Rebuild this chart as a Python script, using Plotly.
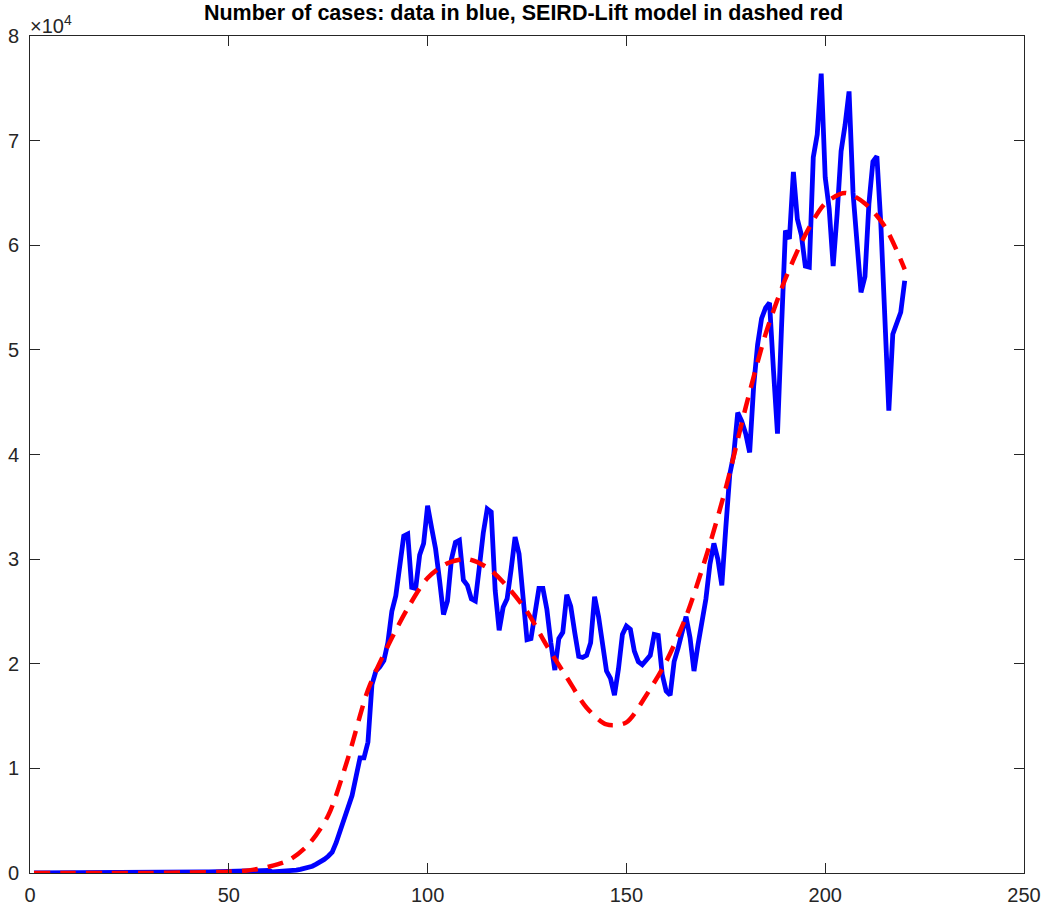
import plotly.graph_objects as go

# ---------------- data ----------------
days = list(range(1, 221))

# observed daily cases (blue), days 1..220
cases = [
    0, 0, 0, 0, 0, 2, 3, 3, 5, 8,
    10, 12, 15, 18, 20, 22, 25, 28, 30, 32,
    35, 38, 40, 45, 48, 50, 55, 58, 60, 62,
    65, 68, 70, 72, 75, 78, 80, 85, 88, 90,
    95, 100, 105, 110, 115, 120, 125, 130, 135, 140,
    145, 150, 160, 170, 180, 190, 200, 210, 220, 240,
    100, 120, 130, 150, 180, 220, 280, 350, 420, 520,
    650, 850, 1050, 1300, 1600, 2000, 2900, 4000, 5200, 6400,
    7400, 9200, 11000, 11000, 12500, 18000, 19300, 19700, 20300, 22000,
    25000, 26500, 29500, 32200, 32400, 27300, 27200, 30400, 31500, 35100,
    33000, 31000, 28000, 24700, 26000, 30000, 31600, 31800, 28000, 27500,
    26200, 26000, 29200, 32500, 34800, 34500, 27000, 23200, 25400, 26200,
    29000, 32100, 30500, 26200, 22300, 22400, 25200, 27200, 27200, 25200,
    22000, 19400, 22400, 23000, 26600, 25500, 23000, 20700, 20600, 20800,
    22000, 26400, 24500, 22000, 19300, 18600, 17000, 19500, 22800, 23600,
    23300, 21200, 20200, 19900, 20300, 20800, 22800, 22700, 19000, 17400,
    17000, 20200, 21500, 22900, 24500, 22500, 19300, 21800, 24000, 26200,
    29500, 31500, 30000, 27500, 33000, 38100, 40000, 44000, 43200, 42000,
    40200, 46500, 50500, 53000, 54000, 54500, 48000, 42000, 52000, 61400,
    60600, 67000, 62500, 61000, 58000, 57900, 68400, 70600, 76400, 66500,
    63500, 58000, 63000, 69000, 71500, 74700, 65000, 60000, 55500, 57000,
    64000, 68000, 68500, 62000, 53700, 44200, 51500, 52500, 53600, 56600,
]

# SEIRD-Lift model (red dashed), read every few days
model_days = [1, 10, 20, 30, 40, 50, 55, 60, 65, 70, 75, 80, 85, 90, 95,
              100, 105, 110, 115, 120, 125, 130, 135, 140, 145, 150, 155,
              160, 165, 170, 175, 180, 185, 190, 195, 200, 205, 210, 215, 220]
model_cases = [0, 0, 0, 0, 50, 120, 250, 600, 1200, 2700, 5500, 11000,
               17500, 21700, 25300, 28200, 29600, 30000, 29200, 27400,
               25000, 21700, 18700, 15800, 14200, 14400, 17000, 20200,
               24500, 30200, 36800, 44500, 51500, 56800, 61000, 64000,
               65000, 64000, 61800, 57700]

x_ticks = [0, 50, 100, 150, 200, 250]
y_ticks = [0, 10000, 20000, 30000, 40000, 50000, 60000, 70000, 80000]
y_tick_labels = ["0", "1", "2", "3", "4", "5", "6", "7", "8"]

title_text = "Number of cases: data in blue, SEIRD-Lift model in dashed red"

# ---------------- figure ----------------
axis_col = "#262626"
font_fam = "Liberation Sans, Arial, Helvetica, sans-serif"

fig = go.Figure()
fig.add_trace(go.Scatter(
    x=days, y=cases, mode="lines",
    line=dict(color="#0000FF", width=4.8),
    showlegend=False, hoverinfo="skip"))
fig.add_trace(go.Scatter(
    x=model_days, y=model_cases, mode="lines",
    line=dict(color="#FF0000", width=4.5, dash="16px,10px", shape="spline", smoothing=0.8),
    showlegend=False, hoverinfo="skip"))

fig.update_layout(
    width=1047, height=909,
    margin=dict(l=30, r=23, t=36, b=36),
    paper_bgcolor="white", plot_bgcolor="white",
    font=dict(family=font_fam, size=20, color=axis_col),
    title=dict(text="<b>" + title_text + "</b>", x=0.5, xanchor="center",
               y=1 - 12 / 909, yanchor="middle", automargin=False,
               font=dict(family=font_fam, size=21.5, color="black")),
    annotations=[dict(text="×10<sup>4</sup>", xref="paper", yref="paper",
                      x=0, y=1, xanchor="left", yanchor="bottom",
                      showarrow=False, yshift=-3, xshift=-2,
                      font=dict(family=font_fam, size=20, color=axis_col))],
)
fig.update_xaxes(range=[0, 250], tickvals=x_ticks, ticks="inside", ticklen=10,
                 tickcolor=axis_col, showline=True, linecolor=axis_col, linewidth=1,
                 mirror="ticks", showgrid=False, zeroline=False, automargin=False,
                 ticklabelstandoff=4)
fig.update_yaxes(range=[0, 80000], tickvals=y_ticks, ticktext=y_tick_labels,
                 ticks="inside", ticklen=10, tickcolor=axis_col, showline=True,
                 linecolor=axis_col, linewidth=1, mirror="ticks", showgrid=False,
                 zeroline=False, automargin=False, ticklabelstandoff=6)

fig.write_html("out.html")
